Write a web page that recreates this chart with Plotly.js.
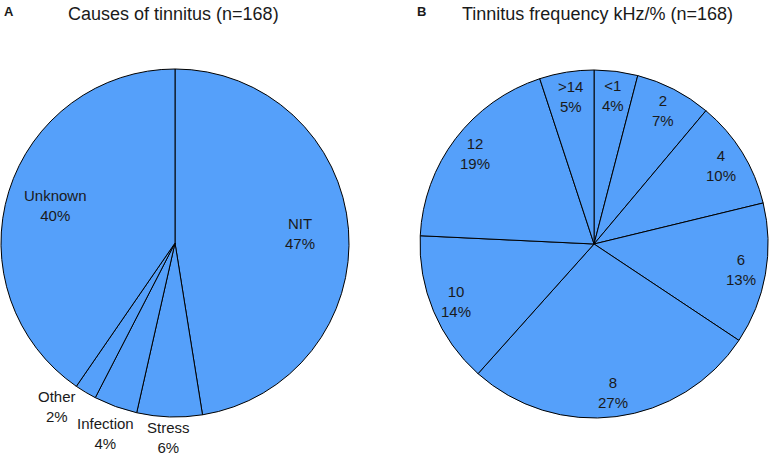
<!DOCTYPE html>
<html>
<head>
<meta charset="utf-8">
<script src="https://cdn.plot.ly/plotly-3.0.1.min.js"></script>
<style>
  body { margin: 0; background: #fff; }
  #plot { width: 772px; height: 456px; }
</style>
</head>
<body>
<div id="plot"></div>
<script>
// panel A - causes (percent of n=168)
var causeLabels = ['NIT', 'Stress', 'Infection', 'Other', 'Unknown'];
var causeValues = [47, 6, 4, 2, 40];
var causeTextPos = ['inside', 'outside', 'outside', 'outside', 'inside'];

// panel B - tinnitus frequency in kHz (percent of n=168)
var freqLabels = ['<1', '2', '4', '6', '8', '10', '12', '>14'];
var freqValues = [4, 7, 10, 13, 27, 14, 19, 5];
var freqTextPos = freqLabels.map(function () { return 'inside'; });

var W = 772, H = 456;
var blue = '#55a0fa';
var fontFam = 'Liberation Sans, Arial, sans-serif';
var labelFont = { family: fontFam, size: 15, color: '#1a1a1a' };

var domainA = { x: [0, 0.4534], y: [0.0855, 0.8487] };
var domainB = { x: [0.544, 0.995], y: [0.0833, 0.8465] };

function sum(ary) {
  var s = 0;
  for (let i = 0; i < ary.length; i++) s += ary[i];
  return s;
}

function pieTrace(labels, values, domain) {
  return {
    type: 'pie',
    labels: labels,
    values: values,
    sort: false,
    direction: 'clockwise',
    rotation: 0,
    domain: domain,
    marker: {
      colors: labels.map(function () { return blue; }),
      line: { color: '#000', width: 1 }
    },
    textinfo: 'none',
    hoverinfo: 'label+value',
    showlegend: false
  };
}

// the pie's centre and radius in pixels, same rule plotly uses for a full pie
function pieGeom(domain) {
  var x0 = domain.x[0] * W, x1 = domain.x[1] * W;
  var y0 = (1 - domain.y[1]) * H, y1 = (1 - domain.y[0]) * H;
  return { cx: (x0 + x1) / 2, cy: (y0 + y1) / 2, r: Math.min(x1 - x0, y1 - y0) / 2 };
}

var ctx = document.createElement('canvas').getContext('2d');
ctx.font = labelFont.size + 'px "Liberation Sans"';

function overlaps(a, b) {
  return a.x0 < b.x1 && b.x0 < a.x1 && a.y0 < b.y1 && b.y0 < a.y1;
}

// label each slice at its middle angle; outside labels sit just off the rim
// and get turned a little further round if they would hit the one before
function sliceLabels(labels, values, domain, pos, kIn) {
  var g = pieGeom(domain), total = sum(values), cum = 0, out = [], placed = [];
  var boxH = 32, gap = 4;
  for (let i = 0; i < values.length; i++) {
    var mid = (cum + values[i] / 2) / total * 2 * Math.PI;
    cum += values[i];
    var pct = values[i] + '%';
    var px, py;
    if (pos[i] === 'outside') {
      var boxW = Math.max(ctx.measureText(labels[i]).width, ctx.measureText(pct).width);
      var theta = mid, box;
      for (let step = 0; step < 40; step++) {
        var s = Math.sin(theta), c = Math.cos(theta);
        var d = g.r + gap + Math.abs(s) * boxW / 2 + Math.abs(c) * boxH / 2;
        px = g.cx + d * s;
        py = g.cy - d * c;
        box = { x0: px - boxW / 2, x1: px + boxW / 2, y0: py - boxH / 2, y1: py + boxH / 2 };
        if (!placed.some(function (b) { return overlaps(b, box); })) break;
        theta += Math.PI / 180;
      }
      placed.push(box);
    } else {
      px = g.cx + g.r * kIn * Math.sin(mid);
      py = g.cy - g.r * kIn * Math.cos(mid);
    }
    out.push({
      text: labels[i].replace('<', '&lt;').replace('>', '&gt;') + '<br>' + pct,
      x: px / W, y: 1 - py / H, xref: 'paper', yref: 'paper',
      xanchor: 'center', yanchor: 'middle', showarrow: false, font: labelFont
    });
  }
  return out;
}

var titleFont = { family: fontFam, size: 18, color: '#1a1a1a' };
var panelFont = { family: fontFam, size: 13, color: '#1a1a1a' };

var titles = [
  { text: '<b>A</b>', x: 9 / W, y: 1 - 11 / H, xref: 'paper', yref: 'paper', xanchor: 'center', yanchor: 'middle', showarrow: false, font: panelFont },
  { text: 'Causes of tinnitus (n=168)', x: 173 / W, y: 1 - 14 / H, xref: 'paper', yref: 'paper', xanchor: 'center', yanchor: 'middle', showarrow: false, font: titleFont },
  { text: '<b>B</b>', x: 421 / W, y: 1 - 11 / H, xref: 'paper', yref: 'paper', xanchor: 'center', yanchor: 'middle', showarrow: false, font: panelFont },
  { text: 'Tinnitus frequency kHz/% (n=168)', x: 597 / W, y: 1 - 14 / H, xref: 'paper', yref: 'paper', xanchor: 'center', yanchor: 'middle', showarrow: false, font: titleFont }
];

var layout = {
  width: W,
  height: H,
  margin: { l: 0, r: 0, t: 0, b: 0 },
  paper_bgcolor: '#fff',
  annotations: titles
    .concat(sliceLabels(causeLabels, causeValues, domainA, causeTextPos, 0.72))
    .concat(sliceLabels(freqLabels, freqValues, domainB, freqTextPos, 0.86))
};

Plotly.newPlot('plot', [pieTrace(causeLabels, causeValues, domainA), pieTrace(freqLabels, freqValues, domainB)], layout,
  { displayModeBar: false, staticPlot: true });
</script>
</body>
</html>
